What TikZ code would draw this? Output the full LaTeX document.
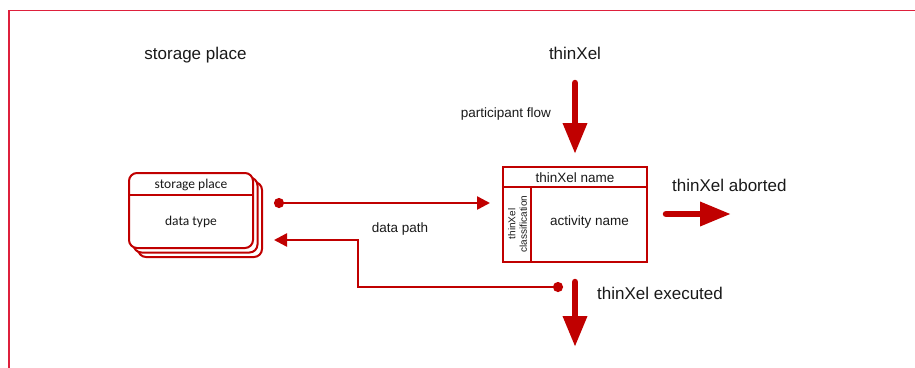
\documentclass[tikz,border=0pt]{standalone}
\usepackage{fontspec}
\setmainfont{Liberation Sans}
\newfontfamily\calfont{Carlito}
\usetikzlibrary{arrows.meta}
\definecolor{flowred}{RGB}{192,0,0}
\definecolor{framered}{RGB}{222,32,60}
\definecolor{inktext}{RGB}{25,25,25}
\begin{document}
\begin{tikzpicture}[x=1pt,y=-1pt,
  every node/.style={text=inktext},
  title/.style={font=\fontsize{17}{20}\selectfont, inner sep=0pt},
  label/.style={font=\fontsize{13.5}{16}\selectfont, inner sep=0pt},
  boxtext/.style={font=\calfont\fontsize{13.5}{16}\selectfont, inner sep=0pt},
  bigflow/.style={flowred, line width=6.5pt, line cap=round,
    -{Triangle[length=31pt,width=23pt]}},
  datapath/.style={flowred, line width=2.5pt,
    {Circle[length=10pt]}-{Triangle[length=13pt,width=13pt]}},
  store/.style={draw=flowred, line width=2pt, fill=white, rounded corners=8pt,
    minimum width=124pt, minimum height=75pt, inner sep=0pt},
  divider/.style={flowred, line width=1.6pt},
]
\useasboundingbox (0,0) rectangle (915,367);

% page frame
\draw[framered, line width=1.5pt] (9,368) -- (9,10.5) -- (916,10.5);

% column titles
\node[title, anchor=base] (sptitle) at (195.5,59) {storage place};
\node[title, anchor=base] (txtitle) at (575,59) {thinXel};

% stacked storage place
\node[store] (sp3) at (200,219.5) {};
\node[store] (sp2) at (195.5,215) {};
\node[store] (sp) at (191,210.5) {};
\draw[divider] ([yshift=-23pt]sp.north west) -- ([yshift=-23pt]sp.north east);
\node[boxtext] (spname) at (191,185) {storage place};
\node[boxtext] (sptype) at (191,222) {data type};

% thinXel box
\node[draw=flowred, line width=2.3pt, minimum width=144pt, minimum height=95pt,
  inner sep=0pt] (tx) at (575,214.5) {};
\draw[flowred, line width=2.3pt] ([yshift=-21pt]tx.north west) -- ([yshift=-21pt]tx.north east);
\draw[flowred, line width=2.3pt] ([xshift=29pt,yshift=-21pt]tx.north west) -- ([xshift=29pt]tx.south west);
\node[label] (txname) at (575,178) {thinXel name};
\node[label] (txact) at (589.5,222) {activity name};
\node[font=\fontsize{10}{11.5}\selectfont, rotate=90, align=center, inner sep=0pt]
  (txclass) at (517.5,224) {thinXel\\classification};

% participant flow
\coordinate (pfA) at (575,83);
\coordinate (pfB) at (575,154);
\draw[bigflow] (pfA) -- (pfB);
\node[label, anchor=base east] (pflabel) at (551,117) {participant flow};

% aborted
\coordinate (abA) at (666,214);
\coordinate (abB) at (731,214);
\draw[bigflow] (abA) -- (abB);
\node[title, anchor=base west] (ablabel) at (672,191) {thinXel aborted};

% executed
\coordinate (exA) at (575,282);
\coordinate (exB) at (575,347);
\draw[bigflow] (exA) -- (exB);
\node[title, anchor=base west] (exlabel) at (597,299) {thinXel executed};

% data paths
\coordinate (dpA) at (274,203);
\coordinate (dpB) at (490,203);
\draw[datapath] (dpA) -- (dpB);
\coordinate (rtA) at (563,287);
\coordinate (rtC) at (358,240);
\coordinate (rtB) at (274,240);
\draw[datapath] (rtA) -| (rtC) -- (rtB);
\node[label, anchor=base] (dplabel) at (400,232) {data path};
\end{tikzpicture}
\end{document}
